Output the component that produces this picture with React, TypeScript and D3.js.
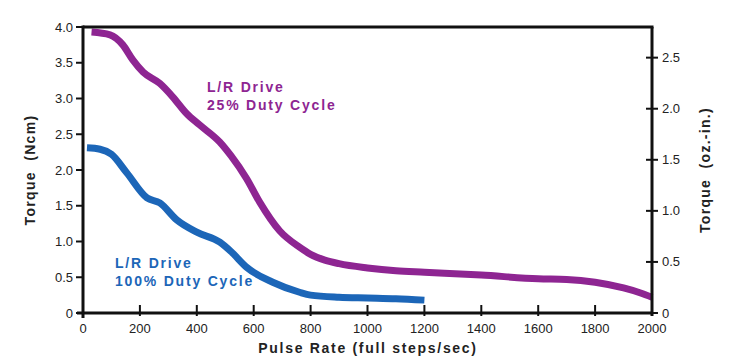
import React from 'react';
import * as d3 from 'd3';

// Pulse rate (full steps/sec) vs torque (Ncm)
const duty25Rate = [30, 95, 140, 175, 211, 270, 316, 364, 410, 481, 520, 575, 621, 691, 761, 800, 850, 900, 1000, 1100, 1200, 1400, 1600, 1700, 1800, 1900, 1960, 2000];
const duty25Torque = [3.93, 3.89, 3.75, 3.54, 3.37, 3.21, 3.02, 2.79, 2.63, 2.39, 2.2, 1.88, 1.55, 1.15, 0.92, 0.82, 0.74, 0.69, 0.63, 0.59, 0.57, 0.53, 0.48, 0.47, 0.43, 0.35, 0.28, 0.22];

const duty100Rate = [14, 60, 100, 154, 225, 270, 330, 400, 481, 520, 575, 667, 761, 800, 900, 1000, 1100, 1200];
const duty100Torque = [2.31, 2.29, 2.22, 1.96, 1.61, 1.54, 1.3, 1.13, 0.99, 0.86, 0.64, 0.43, 0.29, 0.25, 0.22, 0.21, 0.2, 0.18];

const xTicks = [0, 200, 400, 600, 800, 1000, 1200, 1400, 1600, 1800, 2000];
const leftTicks = [0, 0.5, 1.0, 1.5, 2.0, 2.5, 3.0, 3.5, 4.0];
const rightTicks = [0, 0.5, 1.0, 1.5, 2.0, 2.5];

const PURPLE = '#8e2592';
const BLUE = '#1c66b8';
const FONT = 'Liberation Sans, Arial, Helvetica, sans-serif';

const App = () => {
  const width = 729;
  const height = 363;
  const m = { left: 83, right: 652, top: 27, bottom: 313 };

  const x = d3.scaleLinear().domain([0, 2000]).range([m.left, m.right]);
  const y = d3.scaleLinear().domain([0, 4]).range([m.bottom, m.top]);
  const yRight = d3.scaleLinear().domain([0, 2.8]).range([m.bottom, m.top]);

  const line = d3
    .line<[number, number]>()
    .x(d => x(d[0]))
    .y(d => y(d[1]))
    .curve(d3.curveMonotoneX);

  const purple = line(duty25Rate.map((r, i) => [r, duty25Torque[i]]));
  const blue = line(duty100Rate.map((r, i) => [r, duty100Torque[i]]));

  return (
    <svg
      width={width}
      height={height}
      style={{ position: 'absolute', left: 0, top: 0, background: '#fff' }}
      fontFamily={FONT}
    >
      {/* curves */}
      <path d={purple || ''} fill="none" stroke={PURPLE} strokeWidth={7} />
      <path d={blue || ''} fill="none" stroke={BLUE} strokeWidth={7} />

      {/* frame */}
      <line x1={m.left} x2={m.right + 1.5} y1={m.top} y2={m.top} stroke="#111" strokeWidth={3} />
      <line x1={m.right} x2={m.right} y1={m.top} y2={m.bottom + 3} stroke="#111" strokeWidth={3} />
      <line x1={m.left} x2={m.left} y1={m.top - 1.5} y2={m.bottom + 5} stroke="#111" strokeWidth={3} />
      <line x1={m.left - 6} x2={m.right} y1={m.bottom} y2={m.bottom} stroke="#111" strokeWidth={3} />

      {/* left axis */}
      {leftTicks.map(t => (
        <g key={'l' + t}>
          <line x1={m.left - 7} x2={m.left} y1={y(t)} y2={y(t)} stroke="#111" strokeWidth={2} />
          <text x={m.left - 10} y={y(t)} dy="0.35em" textAnchor="end" fontSize={13} fill="#222">
            {t === 0 ? '0' : t.toFixed(1)}
          </text>
        </g>
      ))}

      {/* right axis */}
      {rightTicks.map(t => (
        <g key={'r' + t}>
          <line x1={m.right - 6} x2={m.right + 6} y1={yRight(t)} y2={yRight(t)} stroke="#111" strokeWidth={2} />
          <text x={m.right + 10} y={yRight(t)} dy="0.35em" textAnchor="start" fontSize={13} fill="#222">
            {t === 0 ? '0' : t.toFixed(1)}
          </text>
        </g>
      ))}

      {/* bottom axis */}
      {xTicks.map(t => (
        <g key={'x' + t}>
          {t > 0 && t < 2000 && (
            <line x1={x(t)} x2={x(t)} y1={m.bottom - 8} y2={m.bottom + 3} stroke="#111" strokeWidth={2} />
          )}
          <text x={x(t)} y={333} textAnchor="middle" fontSize={13} fill="#222">
            {t}
          </text>
        </g>
      ))}

      {/* axis titles */}
      <text
        transform={`translate(35, 170) rotate(-90)`}
        textAnchor="middle"
        fontSize={14}
        fontWeight="bold"
        letterSpacing={1.3}
        fill="#222"
        style={{ whiteSpace: 'pre' }}
      >
        {'Torque  (Ncm)'}
      </text>
      <text
        transform={`translate(710, 170) rotate(-90)`}
        textAnchor="middle"
        fontSize={14}
        fontWeight="bold"
        letterSpacing={1.3}
        fill="#222"
        style={{ whiteSpace: 'pre' }}
      >
        {'Torque  (oz.-in.)'}
      </text>
      <text x={368} y={353} textAnchor="middle" fontSize={14} fontWeight="bold" letterSpacing={1.7} fill="#222">
        Pulse Rate (full steps/sec)
      </text>

      {/* series labels */}
      <text x={207} y={92} fontSize={14} fontWeight="bold" letterSpacing={1.8} fill={PURPLE}>
        L/R Drive
      </text>
      <text x={207} y={110} fontSize={14} fontWeight="bold" letterSpacing={1.8} fill={PURPLE}>
        25% Duty Cycle
      </text>
      <text x={115} y={268} fontSize={14} fontWeight="bold" letterSpacing={1.8} fill={BLUE}>
        L/R Drive
      </text>
      <text x={115} y={286} fontSize={14} fontWeight="bold" letterSpacing={1.8} fill={BLUE}>
        100% Duty Cycle
      </text>
    </svg>
  );
};

export default App;
